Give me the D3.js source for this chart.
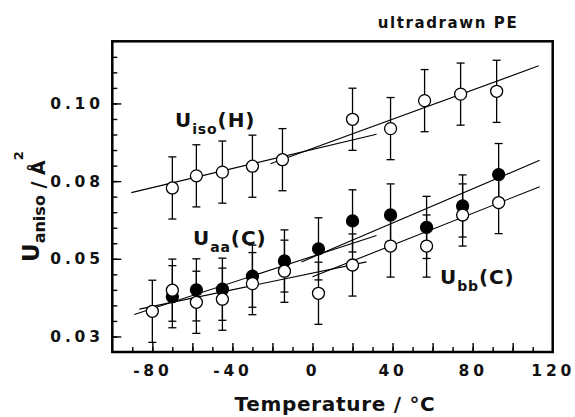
<!DOCTYPE html>
<html>
<head>
<meta charset="utf-8">
<script src="https://cdn.jsdelivr.net/npm/d3@7"></script>
<style>
  html, body { margin: 0; padding: 0; background: #fff; }
  svg { display: block; }
</style>
</head>
<body>
<script>
// Anisotropic displacement parameters of ultradrawn polyethylene vs temperature

// H atoms: isotropic U
const tempH = [-70, -58, -45, -30, -15, 20, 39, 56, 74, 92];
const uisoH = [0.0778, 0.0817, 0.0829, 0.0848, 0.0869, 0.0999, 0.0969, 0.1059, 0.1080, 0.1089];
const errH  = [0.010, 0.010, 0.010, 0.010, 0.010, 0.010, 0.010, 0.010, 0.010, 0.010];

// C atoms: U along a (filled) and along b (open)
const tempC = [-80, -70, -58, -45, -30, -14, 3, 20, 39, 57, 75, 93];
const uaaC  = [null, 0.0428, 0.0450, 0.0452, 0.0494, 0.0543, 0.0582, 0.0672, 0.0691, 0.0651, 0.0720, 0.0821];
const ubbC  = [0.0381, 0.0449, 0.0410, 0.0420, 0.0470, 0.0510, 0.0439, 0.0530, 0.0591, 0.0591, 0.0691, 0.0731];
const errC  = [0.010, 0.010, 0.010, 0.010, 0.010, 0.010, 0.010, 0.010, 0.010, 0.010, 0.010, 0.010];

// straight-line fits, low- and high-temperature branches: [T, U] end points
const fitLines = [
  [[-90.5, 0.0763], [32, 0.0951]],
  [[-21, 0.0856], [113, 0.1171]],
  [[-89, 0.0371], [32, 0.0625]],
  [[-5.5, 0.0540], [113.5, 0.0867]],
  [[-86.5, 0.0388], [27, 0.0540]],
  [[0, 0.0492], [113.5, 0.0782]]
];

// axes
const xDomain = [-100, 120];
const yDomain = [0.025, 0.125];
const xMinorTicks = d3.range(-90, 111, 10);
const xMajorTicks = [-80, -60, -40, -20, 0, 20, 40, 60, 80, 100];
const xTickLabels = {"-80": "-80", "-40": "-40", "0": "0", "40": "40", "80": "80", "120": "120"};
const yMinorTicks = d3.range(0.03, 0.1201, 0.005);
const yMajorTicks = [0.03, 0.055, 0.08, 0.105];
const yTickLabels = ["0.03", "0.05", "0.08", "0.10"];

const W = 575, H = 417;
const L = 112.3, R = 552.7, T = 41.3, B = 352;
const FONT = "'DejaVu Sans', 'Liberation Sans', Arial, sans-serif";

const svg = d3.select("body").append("svg").attr("width", W).attr("height", H);

const x = d3.scaleLinear().domain(xDomain).range([L, R]);
const y = d3.scaleLinear().domain(yDomain).range([B, T]);

function styleAxis(g) {
  g.select(".domain").remove();
  g.selectAll(".tick line").attr("stroke", "#000").attr("stroke-width", 1.4);
  g.attr("font-family", FONT).attr("font-weight", "bold").attr("font-size", 15.5);
  g.selectAll(".tick text").attr("fill", "#111").attr("letter-spacing", "3.8px");
}

// bottom axis: minor + major ticks pointing inward, labels every 40 °C
svg.append("g").attr("transform", `translate(0,${B})`)
  .call(d3.axisBottom(x).tickValues(xMinorTicks).tickSize(-5).tickFormat(""))
  .call(styleAxis);
svg.append("g").attr("transform", `translate(0,${B})`)
  .call(d3.axisBottom(x).tickValues(xMajorTicks).tickSize(-9).tickFormat(() => ""))
  .call(styleAxis);
svg.append("g").attr("transform", `translate(0,${B})`)
  .call(d3.axisBottom(x).tickValues(Object.keys(xTickLabels).map(Number)).tickSize(0).tickPadding(13)
        .tickFormat(d => xTickLabels[String(d)]))
  .call(styleAxis);

// left axis
svg.append("g").attr("transform", `translate(${L},0)`)
  .call(d3.axisLeft(y).tickValues(yMinorTicks).tickSize(-5).tickFormat(""))
  .call(styleAxis);
svg.append("g").attr("transform", `translate(${L},0)`)
  .call(d3.axisLeft(y).tickValues(yMajorTicks).tickSize(-9).tickPadding(8.5)
        .tickFormat((d, i) => yTickLabels[i]))
  .call(styleAxis);

// frame
svg.append("rect")
  .attr("x", L).attr("y", T).attr("width", R - L).attr("height", B - T)
  .attr("fill", "none").attr("stroke", "#000").attr("stroke-width", 2.5);

// fit lines
const line = d3.line().x(d => x(d[0])).y(d => y(d[1]));
svg.append("g").selectAll("path").data(fitLines).join("path")
  .attr("d", line).attr("fill", "none").attr("stroke", "#000").attr("stroke-width", 1.1);

// series
const seriesH = tempH.map((t, i) => ({t, v: uisoH[i], e: errH[i]}));
const seriesAA = tempC.map((t, i) => ({t, v: uaaC[i], e: errC[i]})).filter(d => d.v !== null);
const seriesBB = tempC.map((t, i) => ({t, v: ubbC[i], e: errC[i]}));

function errorBars(data) {
  const g = svg.append("g").attr("stroke", "#000").attr("stroke-width", 1.3);
  g.selectAll("line.v").data(data).join("line").attr("class", "v")
    .attr("x1", d => x(d.t)).attr("x2", d => x(d.t))
    .attr("y1", d => y(d.v - d.e)).attr("y2", d => y(d.v + d.e));
  [-1, 1].forEach(s => {
    g.selectAll("line.c" + (s + 1)).data(data).join("line").attr("class", "c" + (s + 1))
      .attr("x1", d => x(d.t) - 4).attr("x2", d => x(d.t) + 4)
      .attr("y1", d => y(d.v + s * d.e)).attr("y2", d => y(d.v + s * d.e));
  });
}
function markers(data, fill) {
  svg.append("g").selectAll("circle").data(data).join("circle")
    .attr("cx", d => x(d.t)).attr("cy", d => y(d.v)).attr("r", 6)
    .attr("fill", fill).attr("stroke", "#000").attr("stroke-width", 1.3);
}

errorBars(seriesH);
errorBars(seriesAA);
errorBars(seriesBB);
markers(seriesH, "#fff");
markers(seriesAA, "#000");
markers(seriesBB, "#fff");

// series labels
function seriesLabel(px, py, sub, tail) {
  const t = svg.append("text").attr("x", px).attr("y", py)
    .attr("font-family", FONT).attr("font-weight", "bold").attr("font-size", 20)
    .attr("letter-spacing", "0.9px").attr("fill", "#111");
  t.append("tspan").text("U");
  t.append("tspan").attr("dy", 7).attr("font-size", 14).text(sub);
  t.append("tspan").attr("dy", -7).text(tail);
}
seriesLabel(175, 126.5, "iso", "(H)");
seriesLabel(193, 245, "aa", "(C)");
seriesLabel(440, 283.5, "bb", "(C)");

// title
svg.append("text").attr("x", 448).attr("y", 28).attr("text-anchor", "middle")
  .attr("font-family", FONT).attr("font-weight", "bold").attr("font-size", 15)
  .attr("letter-spacing", "1.6px").attr("fill", "#111").text("ultradrawn PE");

// x-axis title
svg.append("text").attr("x", 335).attr("y", 411).attr("text-anchor", "middle")
  .attr("font-family", FONT).attr("font-weight", "bold").attr("font-size", 20)
  .attr("letter-spacing", "0.7px").attr("fill", "#111").text("Temperature / °C");

// y-axis title
const yt = svg.append("text").attr("transform", "translate(38.5,262) rotate(-90)")
  .attr("font-family", FONT).attr("font-weight", "bold").attr("font-size", 23).attr("fill", "#111");
yt.append("tspan").text("U");
yt.append("tspan").attr("dy", 6.5).attr("font-size", 16).text("aniso");
yt.append("tspan").attr("font-size", 19).text(" / Å");
yt.append("tspan").attr("dy", -22).attr("font-size", 13).text("2");
</script>
</body>
</html>
